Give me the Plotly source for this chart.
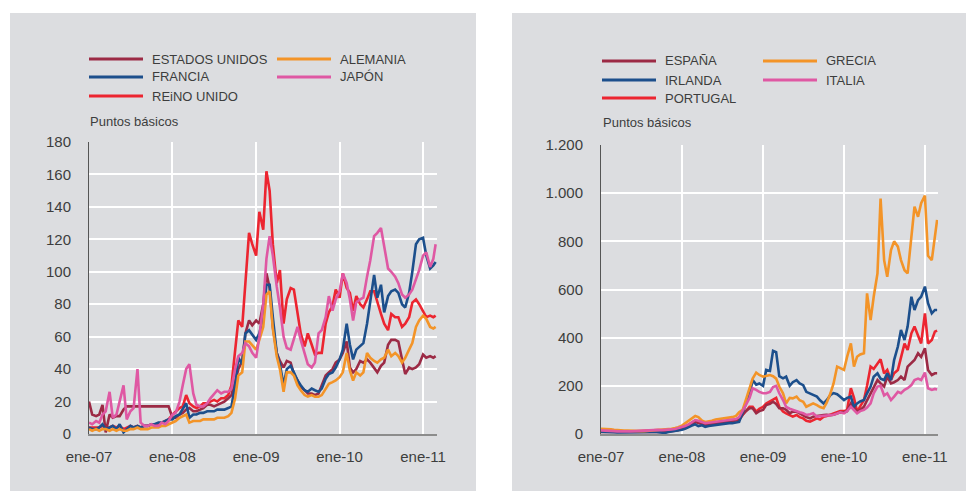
import pandas as pd
import plotly.graph_objects as go

# Semi-monthly observation dates, Jan 2007 - Feb 2011
FECHAS = list(pd.date_range("2007-01-01", "2011-02-15", freq="SMS")) + [pd.Timestamp("2011-02-25")]

# ---- Left panel: CDS spreads (basis points) ----
ESTADOS_UNIDOS = (
    [20, 12, 11, 12, 18, 1, 12, 10, 11, 11, 15, 17, 17, 17, 17, 17, 17, 17, 17, 17, 17, 17, 17, 17]
    + [10, 10, 12, 13, 15, 16, 14, 14, 15, 16, 18, 18, 17, 18, 19, 20, 22, 24, 32, 40, 45, 62, 70, 67]
    + [70, 68, 80, 99, 90, 66, 50, 45, 41, 45, 44, 37, 33, 29, 27, 25, 25, 24, 25, 30, 36, 38, 40, 44]
    + [46, 50, 57, 41, 38, 40, 45, 44, 46, 44, 41, 38, 42, 44, 55, 58, 58, 57, 46, 37, 41, 40, 41, 43]
    + [49, 47, 48, 47, 48]
)
FRANCIA = (
    [4, 3, 3, 4, 6, 3, 4, 5, 3, 6, 1, 3, 5, 4, 5, 4, 5, 5, 6, 6, 7, 7, 8, 9]
    + [9, 11, 12, 15, 19, 10, 12, 12, 13, 13, 14, 14, 14, 15, 15, 15, 16, 17, 30, 47, 43, 62, 64, 61]
    + [58, 62, 72, 92, 92, 72, 50, 43, 30, 40, 42, 38, 33, 30, 27, 26, 28, 27, 26, 28, 34, 37, 38, 41]
    + [46, 52, 68, 55, 46, 52, 54, 56, 68, 81, 98, 84, 92, 75, 85, 88, 89, 87, 80, 78, 87, 100, 117, 120]
    + [121, 110, 102, 104, 106]
)
REINO_UNIDO = (
    [4, 4, 4, 4, 5, 4, 4, 5, 4, 5, 3, 4, 5, 4, 5, 4, 5, 5, 6, 6, 6, 7, 8, 9]
    + [12, 14, 16, 17, 24, 19, 17, 16, 17, 19, 19, 20, 21, 20, 22, 22, 24, 30, 50, 70, 66, 95, 124, 117]
    + [110, 137, 126, 162, 150, 117, 93, 101, 68, 83, 90, 89, 76, 62, 54, 62, 55, 49, 50, 50, 68, 75, 79, 89]
    + [84, 99, 90, 87, 76, 85, 80, 78, 83, 88, 88, 81, 74, 68, 64, 74, 72, 72, 66, 68, 72, 81, 83, 80]
    + [76, 72, 73, 72, 73]
)
ALEMANIA = (
    [3, 2, 3, 2, 3, 3, 2, 3, 2, 3, 2, 2, 3, 3, 4, 3, 3, 3, 4, 4, 4, 5, 5, 6]
    + [7, 8, 10, 11, 12, 7, 8, 8, 8, 9, 9, 9, 9, 10, 10, 10, 11, 13, 22, 36, 38, 57, 57, 55]
    + [52, 58, 66, 86, 88, 65, 48, 40, 26, 38, 38, 36, 30, 27, 24, 23, 24, 23, 23, 24, 28, 31, 32, 33]
    + [35, 38, 50, 39, 33, 38, 36, 38, 50, 47, 45, 44, 46, 47, 52, 48, 50, 48, 44, 47, 52, 56, 66, 70]
    + [73, 71, 66, 65, 66]
)
JAPON = (
    [7, 6, 8, 7, 12, 14, 26, 10, 12, 20, 30, 9, 14, 16, 40, 7, 5, 5, 6, 5, 5, 7, 6, 8]
    + [12, 13, 20, 30, 40, 43, 25, 18, 17, 17, 19, 22, 25, 27, 25, 26, 26, 28, 40, 48, 50, 56, 54, 50]
    + [47, 60, 80, 108, 122, 110, 91, 78, 60, 53, 52, 58, 66, 58, 50, 43, 41, 44, 62, 64, 72, 85, 76, 83]
    + [88, 99, 93, 83, 70, 81, 83, 84, 97, 107, 122, 124, 127, 115, 102, 100, 97, 93, 86, 84, 86, 89, 95, 101]
    + [110, 112, 103, 108, 117]
)

# ---- Right panel: CDS spreads (basis points) ----
ESPANA = (
    [8, 8, 7, 7, 6, 5, 5, 5, 6, 6, 7, 7, 7, 7, 8, 9, 10, 10, 9, 9, 10, 12, 14, 16]
    + [22, 27, 33, 40, 50, 47, 42, 38, 40, 42, 44, 46, 48, 50, 52, 53, 55, 58, 80, 95, 107, 107, 86, 95]
    + [100, 120, 125, 134, 125, 107, 107, 100, 86, 93, 93, 85, 79, 70, 65, 72, 75, 78, 79, 80, 78, 80, 85, 90]
    + [90, 95, 127, 110, 93, 100, 113, 140, 169, 200, 224, 210, 197, 238, 210, 215, 224, 238, 224, 280, 293, 307, 335, 320]
    + [356, 266, 245, 252, 252]
)
IRLANDA = (
    [10, 10, 9, 8, 7, 6, 6, 5, 5, 6, 6, 7, 7, 6, 8, 8, 10, 8, 7, 4, 8, 10, 12, 15]
    + [18, 22, 30, 35, 40, 33, 36, 30, 33, 35, 37, 40, 42, 44, 45, 45, 48, 50, 90, 125, 165, 224, 205, 210]
    + [200, 266, 262, 345, 340, 240, 231, 238, 200, 215, 224, 210, 203, 175, 169, 162, 155, 140, 127, 140, 162, 170, 165, 155]
    + [141, 150, 155, 113, 127, 135, 141, 169, 197, 238, 252, 230, 224, 252, 224, 307, 363, 432, 390, 446, 570, 515, 556, 570]
    + [612, 543, 501, 515, 515]
)
PORTUGAL = (
    [14, 14, 13, 12, 11, 10, 9, 9, 10, 10, 11, 12, 12, 11, 13, 13, 15, 15, 14, 14, 15, 17, 18, 20]
    + [25, 30, 38, 45, 55, 52, 45, 40, 42, 45, 46, 48, 50, 52, 53, 55, 56, 60, 80, 95, 113, 113, 93, 105]
    + [113, 127, 135, 141, 150, 113, 93, 86, 80, 72, 79, 70, 65, 55, 51, 58, 65, 60, 72, 75, 80, 85, 90, 95]
    + [95, 100, 190, 150, 93, 113, 141, 200, 280, 270, 290, 310, 252, 266, 224, 252, 266, 321, 376, 349, 418, 446, 404, 376]
    + [501, 376, 390, 425, 429]
)
GRECIA = (
    [22, 22, 21, 20, 18, 16, 15, 14, 14, 13, 13, 12, 12, 12, 13, 14, 16, 17, 18, 18, 20, 22, 25, 28]
    + [35, 45, 55, 65, 75, 70, 55, 50, 52, 55, 60, 62, 63, 65, 68, 70, 75, 90, 100, 141, 183, 230, 255, 245]
    + [238, 240, 245, 240, 230, 197, 169, 127, 150, 148, 155, 140, 134, 113, 120, 127, 120, 112, 107, 130, 169, 210, 280, 275]
    + [266, 320, 376, 280, 321, 330, 335, 584, 473, 570, 667, 978, 722, 653, 764, 800, 778, 722, 680, 667, 819, 944, 902, 958]
    + [990, 740, 722, 833, 889]
)
ITALIA = (
    [15, 15, 14, 14, 12, 11, 10, 10, 11, 11, 12, 13, 13, 13, 14, 15, 17, 17, 16, 16, 17, 19, 21, 24]
    + [28, 33, 40, 48, 58, 55, 48, 45, 47, 49, 51, 53, 55, 57, 59, 60, 62, 70, 100, 120, 150, 190, 183, 175]
    + [169, 169, 175, 195, 200, 169, 141, 113, 105, 100, 93, 90, 86, 79, 82, 86, 72, 73, 75, 76, 78, 80, 85, 90]
    + [86, 95, 113, 100, 86, 95, 100, 110, 127, 169, 197, 200, 160, 169, 141, 155, 175, 169, 183, 190, 203, 224, 230, 224]
    + [255, 190, 183, 187, 185]
)

TICKS_X = ["2007-01-01", "2008-01-01", "2009-01-01", "2010-01-01", "2011-01-01"]
TICKTEXT_X = ["ene-07", "ene-08", "ene-09", "ene-10", "ene-11"]
TICKS_Y1 = [0, 20, 40, 60, 80, 100, 120, 140, 160, 180]
TICKS_Y2 = [0, 200, 400, 600, 800, 1000, 1200]
TICKTEXT_Y2 = ["0", "200", "400", "600", "800", "1.000", "1.200"]

C_GRANATE = "#9c2a45"
C_AZUL = "#1c4f8c"
C_ROJO = "#ec2530"
C_NARANJA = "#f39428"
C_ROSA = "#df58a3"

W, H = 966, 491
PANEL = "#dcdde0"
TXT = "#3d3d3d"
FONT = "Liberation Sans, Arial, sans-serif"


def fx(px):
    return px / W


def fy(py):
    return 1 - py / H


# (name, values, colour) in drawing order
izq = [
    ("REINO UNIDO", REINO_UNIDO, C_ROJO),
    ("ESTADOS UNIDOS", ESTADOS_UNIDOS, C_GRANATE),
    ("FRANCIA", FRANCIA, C_AZUL),
    ("ALEMANIA", ALEMANIA, C_NARANJA),
    ("JAPÓN", JAPON, C_ROSA),
]
der = [
    ("PORTUGAL", PORTUGAL, C_ROJO),
    ("ESPAÑA", ESPANA, C_GRANATE),
    ("IRLANDA", IRLANDA, C_AZUL),
    ("GRECIA", GRECIA, C_NARANJA),
    ("ITALIA", ITALIA, C_ROSA),
]

fig = go.Figure()
for nombre, vals, col in izq:
    fig.add_trace(go.Scatter(x=FECHAS, y=vals, name=nombre, mode="lines",
                             line=dict(color=col, width=2.6), xaxis="x", yaxis="y",
                             showlegend=False))
for nombre, vals, col in der:
    fig.add_trace(go.Scatter(x=FECHAS, y=vals, name=nombre, mode="lines",
                             line=dict(color=col, width=2.6), xaxis="x2", yaxis="y2",
                             showlegend=False))

common_x = dict(type="date", tickvals=TICKS_X, ticktext=TICKTEXT_X, showgrid=True,
                gridcolor="white", gridwidth=1.5, showline=True, linecolor="#8c8c8c",
                linewidth=1.5, zeroline=False, ticks="", ticklabelstandoff=8,
                automargin=False,
                tickfont=dict(family=FONT, size=15, color=TXT), fixedrange=True)
common_y = dict(showgrid=True, gridcolor="white", gridwidth=1.5, showline=True,
                linecolor="#555555", linewidth=1, zeroline=False, ticks="",
                ticklabelstandoff=14, automargin=False,
                tickfont=dict(family=FONT, size=15, color=TXT), fixedrange=True)

shapes = [
    dict(type="rect", xref="paper", yref="paper", x0=fx(10), x1=fx(476), y0=0, y1=fy(13),
         fillcolor=PANEL, line=dict(width=0), layer="below"),
    dict(type="rect", xref="paper", yref="paper", x0=fx(512), x1=1, y0=0, y1=fy(13),
         fillcolor=PANEL, line=dict(width=0), layer="below"),
]
annotations = []


def leyenda(items, x_line, y_rows):
    for (nombre, col), (xl, yr) in zip(items, [(x_line[c], y_rows[r]) for r, c in
                                               [(0, 0), (0, 1), (1, 0), (1, 1), (2, 0)]]):
        shapes.append(dict(type="line", xref="paper", yref="paper", x0=fx(xl), x1=fx(xl + 54),
                           y0=fy(yr), y1=fy(yr), line=dict(color=col, width=3)))
        annotations.append(dict(xref="paper", yref="paper", x=fx(xl + 61), y=fy(yr),
                                text=nombre, showarrow=False, xanchor="left", yanchor="middle",
                                font=dict(family=FONT, size=13, color=TXT)))


leyenda([("ESTADOS UNIDOS", C_GRANATE), ("ALEMANIA", C_NARANJA), ("FRANCIA", C_AZUL),
         ("JAPÓN", C_ROSA), ("REiNO UNIDO", C_ROJO)], [89, 277], [59, 77, 96])
leyenda([("ESPAÑA", C_GRANATE), ("GRECIA", C_NARANJA), ("IRLANDA", C_AZUL),
         ("ITALIA", C_ROSA), ("PORTUGAL", C_ROJO)], [602, 763], [61, 80, 98])

for xp, yp in [(88, 121), (601, 123)]:
    annotations.append(dict(xref="paper", yref="paper", x=fx(xp), y=fy(yp), text="Puntos básicos",
                            showarrow=False, xanchor="left", yanchor="middle",
                            font=dict(family=FONT, size=13, color=TXT)))

fig.update_layout(
    width=W, height=H, margin=dict(l=0, r=0, t=0, b=0, autoexpand=False),
    paper_bgcolor="white", plot_bgcolor=PANEL,
    xaxis=dict(common_x, domain=[fx(89), fx(437)], range=["2007-01-01", "2011-03-03"],
               anchor="y"),
    yaxis=dict(common_y, domain=[fy(434), fy(142)], range=[0, 180], tickvals=TICKS_Y1,
               anchor="x"),
    xaxis2=dict(common_x, domain=[fx(601), fx(938)], range=["2007-01-01", "2011-03-01"],
                anchor="y2"),
    yaxis2=dict(common_y, domain=[fy(434), fy(145)], range=[0, 1200], tickvals=TICKS_Y2,
                ticktext=TICKTEXT_Y2, anchor="x2"),
    shapes=shapes, annotations=annotations, showlegend=False,
)

# page body without default margin so the 966x491 figure fills the window exactly
fig.write_html("out.html", post_script="document.body.style.margin='0';")
